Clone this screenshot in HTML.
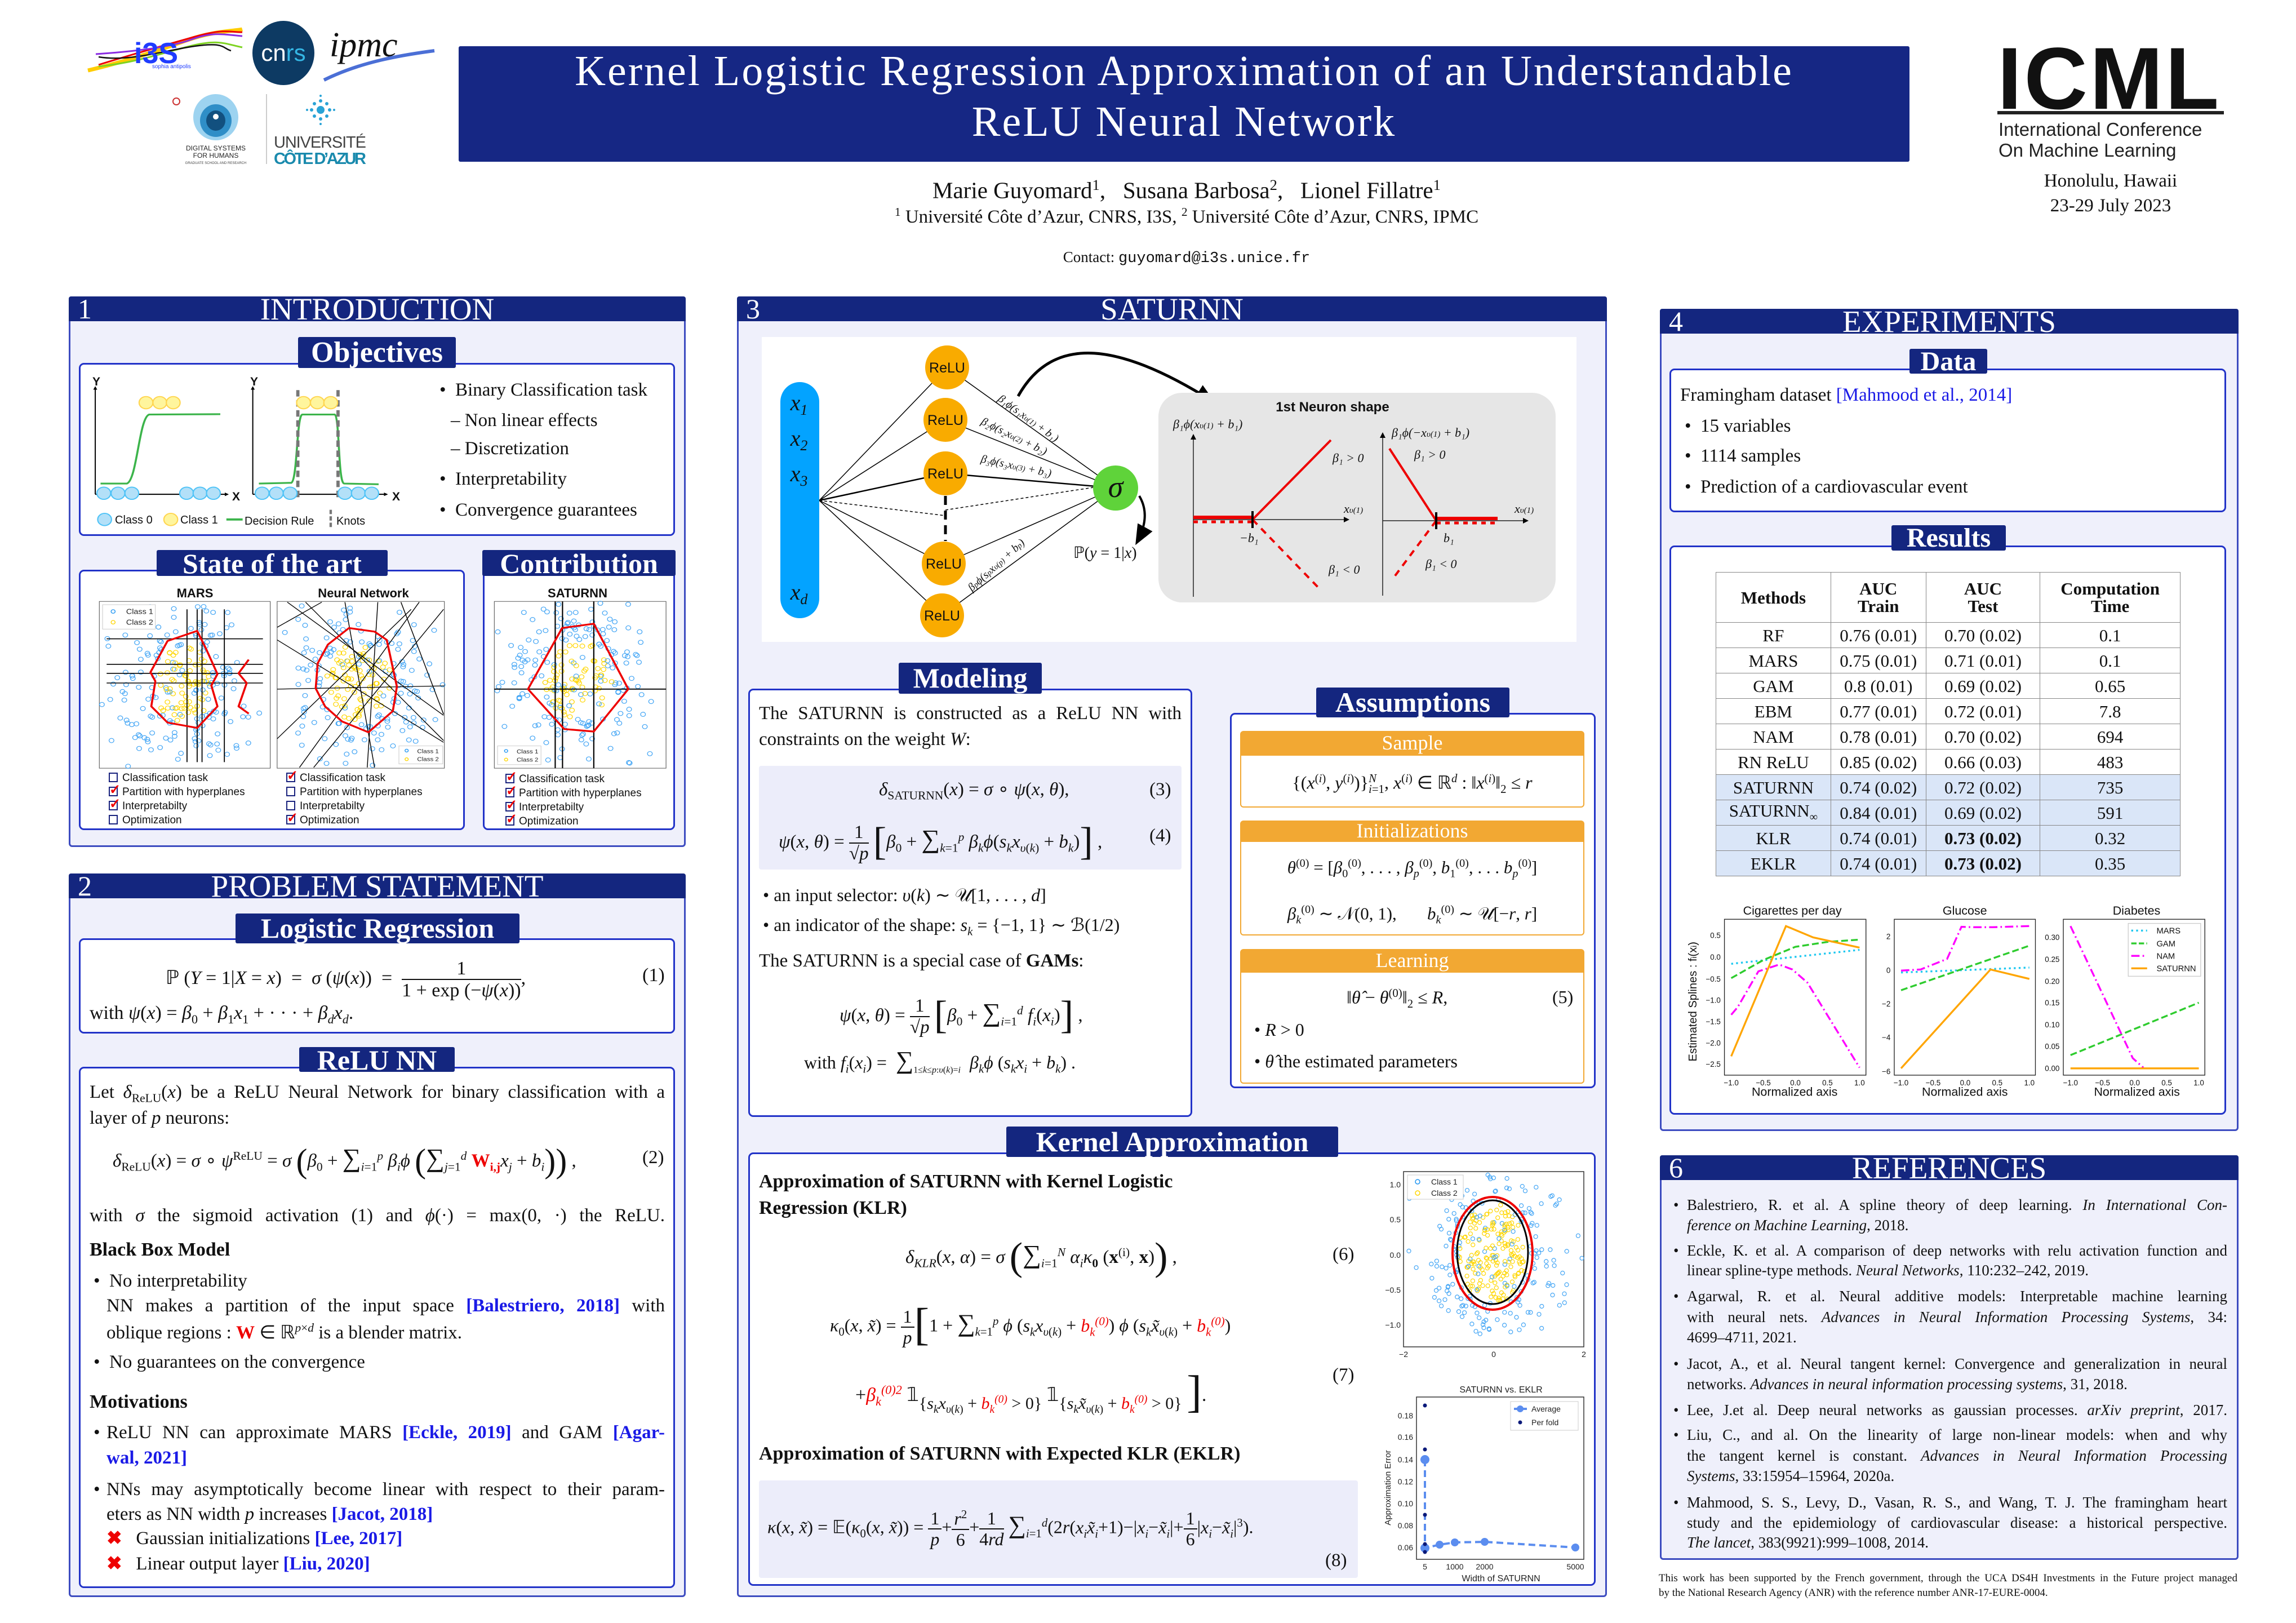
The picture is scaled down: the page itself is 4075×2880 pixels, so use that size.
<!DOCTYPE html>
<html><head><meta charset="utf-8">
<style>
*{margin:0;padding:0;box-sizing:border-box}
body{width:4075px;height:2880px;background:#fff;position:relative;overflow:hidden;font-family:"Liberation Serif",serif;color:#111}
.a{position:absolute;white-space:nowrap;line-height:1}
.sec{position:absolute;background:#eff0fb;border:3px solid #3d4cc0;border-radius:6px}
.hdr{position:absolute;background:#14267f;color:#fff;height:44px;border-radius:4px 4px 0 0}
.hdr .n{position:absolute;left:16px;top:-4px;font-size:50px;line-height:52px}
.hdr .t{position:absolute;left:0;right:0;text-align:center;top:-5px;font-size:55px;line-height:55px}
.box{position:absolute;background:#fff;border:3px solid #2233c8;border-radius:9px}
.lab{position:absolute;background:#14267f;color:#fff;font-weight:bold;text-align:center;border-radius:3px;white-space:nowrap}
.j{position:absolute;text-align:justify;text-align-last:justify;white-space:normal;line-height:1}
.s{font-family:"Liberation Sans",sans-serif}
.cit{color:#1a1ae6;font-weight:bold}
.fr{display:inline-flex;flex-direction:column;vertical-align:middle;text-align:center;line-height:1.1}
.fr>span:first-child{border-bottom:2px solid #111;padding:0 4px}
.cb{display:inline-block;width:16px;height:17px;border:2.5px solid #1a237e;vertical-align:-2px;margin-right:8px;position:relative}
.cb.x::after{content:"✓";position:absolute;left:-1px;top:-9px;color:#e00;font-size:24px;font-weight:bold}
.red{color:#e00}
.orh{position:absolute;background:#f2a833;color:#fff;text-align:center;font-size:36px;line-height:42px;border-radius:6px 6px 0 0}
.orb{position:absolute;background:#fff;border:2px solid #f2a833;border-radius:0 0 6px 6px}
sub,sup{font-size:65%}
i{font-style:italic}
</style></head><body>

<!-- ===== Header logos ===== -->
<svg class="a" style="left:0;top:0" width="820" height="300">
 <path d="M156,125 C220,110 280,90 330,72 S420,55 430,52" stroke="#ffcc00" stroke-width="7" fill="none"/>
 <path d="M175,115 C230,98 300,78 350,64 S410,58 430,57" stroke="#e00" stroke-width="3" fill="none"/>
 <path d="M170,96 C230,92 300,85 340,70 S400,62 430,64" stroke="#8a2be2" stroke-width="3" fill="none"/>
 <path d="M175,118 C250,110 300,90 345,80 S400,78 430,84" stroke="#7ed321" stroke-width="3" fill="none"/>
 <path d="M175,101 C230,110 290,90 345,82 S395,86 410,90" stroke="#111" stroke-width="2.5" fill="none"/>
 <text x="238" y="112" font-family="Liberation Sans" font-weight="bold" font-size="52" fill="#1f3cff">i3S</text>
 <text x="270" y="121" font-family="Liberation Sans" font-size="10" fill="#1f3cff">sophia antipolis</text>
 <ellipse cx="503" cy="94" rx="55" ry="57" fill="#0d3a63"/>
 <text x="503" y="108" text-anchor="middle" font-family="Liberation Sans" font-size="42" fill="#fff">cn<tspan fill="#35b7e5">rs</tspan></text>
 <text x="585" y="100" font-family="Liberation Serif" font-style="italic" font-size="62" fill="#111">ipmc</text>
 <path d="M575,142 C640,110 710,98 771,90" stroke="#4b6fd6" stroke-width="6" fill="none"/>
 <circle cx="313" cy="180" r="6" fill="none" stroke="#c33" stroke-width="2"/>
 <ellipse cx="383" cy="208" rx="40" ry="41" fill="#9dd3f0"/>
 <ellipse cx="383" cy="214" rx="28" ry="29" fill="#2f8ec7"/>
 <ellipse cx="383" cy="214" rx="17" ry="18" fill="#12507f"/>
 <circle cx="383" cy="207" r="5" fill="#fff"/>
 <text x="383" y="267" text-anchor="middle" font-family="Liberation Sans" font-size="12" fill="#222">DIGITAL SYSTEMS</text>
 <text x="383" y="280" text-anchor="middle" font-family="Liberation Sans" font-size="12" fill="#222">FOR HUMANS</text>
 <text x="383" y="291" text-anchor="middle" font-family="Liberation Sans" font-size="6" fill="#444">GRADUATE SCHOOL AND RESEARCH</text>
 <line x1="473" y1="167" x2="473" y2="291" stroke="#bbb" stroke-width="1.5"/>
 <g fill="#29a3d6"><circle cx="569" cy="195" r="7"/><circle cx="569" cy="179" r="3"/><circle cx="569" cy="211" r="3"/><circle cx="553" cy="195" r="3"/><circle cx="585" cy="195" r="3"/><circle cx="558" cy="184" r="3"/><circle cx="580" cy="184" r="3"/><circle cx="558" cy="206" r="3"/><circle cx="580" cy="206" r="3"/><circle cx="569" cy="170" r="2"/><circle cx="569" cy="220" r="2"/><circle cx="545" cy="195" r="2"/><circle cx="593" cy="195" r="2"/></g>
 <text x="486" y="262" font-family="Liberation Sans" font-size="29" fill="#444" textLength="164">UNIVERSITÉ</text>
 <text x="486" y="291" font-family="Liberation Sans" font-weight="bold" font-size="29" fill="#1a8aad" textLength="164">CÔTE D’AZUR</text>
</svg>

<div class="a" style="left:814px;top:82px;width:2575px;height:205px;background:#162784;border-radius:3px"></div>
<div class="a" style="left:814px;top:88px;width:2575px;text-align:center;color:#fff;font-size:76px;letter-spacing:3px">Kernel Logistic Regression Approximation of an Understandable</div>
<div class="a" style="left:814px;top:178px;width:2575px;text-align:center;color:#fff;font-size:76px;letter-spacing:3px">ReLU Neural Network</div>

<div class="a s" style="left:3545px;top:62px;font-size:156px;font-weight:bold;letter-spacing:4px;color:#111">ICML</div>
<div class="a" style="left:3545px;top:197px;width:402px;height:6px;background:#222"></div>
<div class="a s" style="left:3547px;top:213px;font-size:33px;color:#222">International Conference</div>
<div class="a s" style="left:3547px;top:250px;font-size:33px;color:#222">On Machine Learning</div>
<div class="a" style="left:3600px;top:305px;width:292px;text-align:center;font-size:33px">Honolulu, Hawaii</div>
<div class="a" style="left:3600px;top:349px;width:292px;text-align:center;font-size:33px">23-29 July 2023</div>

<div class="a" style="left:1500px;top:315px;width:1212px;text-align:center;font-size:41px">Marie Guyomard<sup>1</sup>,&nbsp;&nbsp;&nbsp;Susana Barbosa<sup>2</sup>,&nbsp;&nbsp;&nbsp;Lionel Fillatre<sup>1</sup></div>
<div class="a" style="left:1500px;top:366px;width:1212px;text-align:center;font-size:33px"><sup>1</sup> Université Côte d’Azur, CNRS, I3S, <sup>2</sup> Université Côte d’Azur, CNRS, IPMC</div>
<div class="a" style="left:1500px;top:443px;width:1212px;text-align:center;font-size:27px">Contact: <span style="font-family:'Liberation Mono',monospace">guyomard@i3s.unice.fr</span></div>

<!-- ===== Section 1 ===== -->
<div class="sec" style="left:122px;top:526px;width:1095px;height:977px"></div>
<div class="hdr" style="left:122px;top:526px;width:1095px"><span class="n">1</span><span class="t">INTRODUCTION</span></div>
<div class="box" style="left:140px;top:644px;width:1058px;height:307px"></div>
<div class="lab" style="left:529px;top:598px;width:280px;height:55px;font-size:52px;line-height:55px">Objectives</div>
<div class="box" style="left:140px;top:1011px;width:685px;height:462px"></div>
<div class="box" style="left:857px;top:1011px;width:341px;height:462px"></div>
<div class="lab" style="left:278px;top:976px;width:410px;height:46px;font-size:50px;line-height:48px">State of the art</div>
<div class="lab" style="left:856px;top:976px;width:343px;height:46px;font-size:50px;line-height:48px">Contribution</div>

<div class="a" style="left:780px;top:676px;font-size:33px">•&nbsp; Binary Classification task</div>
<div class="a" style="left:800px;top:730px;font-size:33px">– Non linear effects</div>
<div class="a" style="left:800px;top:780px;font-size:33px">– Discretization</div>
<div class="a" style="left:780px;top:834px;font-size:33px">•&nbsp; Interpretability</div>
<div class="a" style="left:780px;top:889px;font-size:33px">•&nbsp; Convergence guarantees</div>

<div class="a s" style="left:346px;top:1042px;font-size:22px;font-weight:bold;transform:translateX(-50%)">MARS</div>
<div class="a s" style="left:645px;top:1042px;font-size:22px;font-weight:bold;transform:translateX(-50%)">Neural Network</div>
<div class="a s" style="left:1025px;top:1042px;font-size:22px;font-weight:bold;transform:translateX(-50%)">SATURNN</div>

<div class="a s" style="left:193px;top:1368px;font-size:19px;line-height:25px;white-space:pre"><span class="cb"></span>Classification task
<span class="cb x"></span>Partition with hyperplanes
<span class="cb x"></span>Interpretabilty
<span class="cb"></span>Optimization</div>
<div class="a s" style="left:508px;top:1368px;font-size:19px;line-height:25px;white-space:pre"><span class="cb x"></span>Classification task
<span class="cb"></span>Partition with hyperplanes
<span class="cb"></span>Interpretabilty
<span class="cb x"></span>Optimization</div>
<div class="a s" style="left:897px;top:1370px;font-size:19px;line-height:25px;white-space:pre"><span class="cb x"></span>Classification task
<span class="cb x"></span>Partition with hyperplanes
<span class="cb x"></span>Interpretabilty
<span class="cb x"></span>Optimization</div>

<!-- ===== Section 2 ===== -->
<div class="sec" style="left:122px;top:1550px;width:1095px;height:1284px"></div>
<div class="hdr" style="left:122px;top:1550px;width:1095px"><span class="n">2</span><span class="t">PROBLEM STATEMENT</span></div>
<div class="box" style="left:140px;top:1665px;width:1058px;height:169px"></div>
<div class="lab" style="left:418px;top:1621px;width:504px;height:53px;font-size:50px;line-height:53px">Logistic Regression</div>
<div class="a" style="left:294px;top:1700px;font-size:34px;line-height:60px">ℙ (<i>Y</i> = 1|<i>X</i> = <i>x</i>) &nbsp;= &nbsp;<i>σ</i> (<i>ψ</i>(<i>x</i>)) &nbsp;= &nbsp;<span class="fr"><span>1</span><span>1 + exp (−<i>ψ</i>(<i>x</i>))</span></span>,</div>
<div class="a" style="left:1140px;top:1714px;font-size:34px">(1)</div>
<div class="a" style="left:159px;top:1781px;font-size:34px">with <i>ψ</i>(<i>x</i>) = <i>β</i><sub>0</sub> + <i>β</i><sub>1</sub><i>x</i><sub>1</sub> + · · · + <i>β<sub>d</sub>x<sub>d</sub></i>.</div>

<div class="box" style="left:140px;top:1893px;width:1058px;height:925px"></div>
<div class="lab" style="left:531px;top:1858px;width:276px;height:44px;font-size:50px;line-height:46px">ReLU NN</div>
<div class="j" style="left:159px;top:1922px;width:1021px;font-size:33px">Let <i>δ</i><sub>ReLU</sub>(<i>x</i>) be a ReLU Neural Network for binary classification with a</div>
<div class="a" style="left:159px;top:1968px;font-size:33px">layer of <i>p</i> neurons:</div>
<div class="a" style="left:200px;top:2030px;font-size:33px"><i>δ</i><sub>ReLU</sub>(<i>x</i>) = <i>σ</i> ∘ <i>ψ</i><sup>ReLU</sup> = <i>σ</i> <span style="font-size:60px;vertical-align:-10px">(</span><i>β</i><sub>0</sub> + <span style="font-size:46px">∑</span><sub><i>i</i>=1</sub><sup><i>p</i></sup> <i>β<sub>i</sub>ϕ</i> <span style="font-size:60px;vertical-align:-10px">(</span><span style="font-size:46px">∑</span><sub><i>j</i>=1</sub><sup><i>d</i></sup> <b class="red">W<sub>i,j</sub></b><i>x<sub>j</sub></i> + <i>b<sub>i</sub></i><span style="font-size:60px;vertical-align:-10px">))</span> ,</div>
<div class="a" style="left:1140px;top:2038px;font-size:33px">(2)</div>
<div class="j" style="left:159px;top:2141px;width:1021px;font-size:33px">with <i>σ</i> the sigmoid activation (1) and <i>ϕ</i>(·) = max(0, ·) the ReLU.</div>
<div class="a" style="left:159px;top:2201px;font-size:34px;font-weight:bold">Black Box Model</div>
<div class="a" style="left:166px;top:2257px;font-size:33px">•&nbsp; No interpretability</div>
<div class="j" style="left:189px;top:2301px;width:991px;font-size:33px">NN makes a partition of the input space <span class="cit">[Balestriero, 2018]</span> with</div>
<div class="a" style="left:189px;top:2346px;font-size:33px">oblique regions : <b class="red">W</b> ∈ ℝ<sup><i>p</i>×<i>d</i></sup> is a blender matrix.</div>
<div class="a" style="left:166px;top:2401px;font-size:33px">•&nbsp; No guarantees on the convergence</div>
<div class="a" style="left:159px;top:2471px;font-size:34px;font-weight:bold">Motivations</div>
<div class="a" style="left:166px;top:2526px;font-size:33px">•</div>
<div class="j" style="left:189px;top:2526px;width:991px;font-size:33px">ReLU NN can approximate MARS <span class="cit">[Eckle, 2019]</span> and GAM <span class="cit">[Agar-</span></div>
<div class="a" style="left:189px;top:2571px;font-size:33px"><span class="cit">wal, 2021]</span></div>
<div class="a" style="left:166px;top:2627px;font-size:33px">•</div>
<div class="j" style="left:189px;top:2627px;width:991px;font-size:33px">NNs may asymptotically become linear with respect to their param-</div>
<div class="a" style="left:189px;top:2671px;font-size:33px">eters as NN width <i>p</i> increases <span class="cit">[Jacot, 2018]</span></div>
<div class="a" style="left:189px;top:2714px;font-size:33px"><span class="red" style="font-weight:bold">✖</span>&nbsp;&nbsp; Gaussian initializations <span class="cit">[Lee, 2017]</span></div>
<div class="a" style="left:189px;top:2759px;font-size:33px"><span class="red" style="font-weight:bold">✖</span>&nbsp;&nbsp; Linear output layer <span class="cit">[Liu, 2020]</span></div>

<!-- ===== Section 3 ===== -->
<div class="sec" style="left:1308px;top:526px;width:1544px;height:2308px"></div>
<div class="hdr" style="left:1308px;top:526px;width:1544px"><span class="n">3</span><span class="t">SATURNN</span></div>
<div class="a" style="left:1352px;top:598px;width:1446px;height:541px;background:#fff"></div>

<div class="box" style="left:1328px;top:1222px;width:788px;height:760px"></div>
<div class="lab" style="left:1595px;top:1176px;width:254px;height:55px;font-size:50px;line-height:55px">Modeling</div>
<div class="j" style="left:1347px;top:1250px;width:750px;font-size:33px">The SATURNN is constructed as a ReLU NN with</div>
<div class="a" style="left:1347px;top:1296px;font-size:33px">constraints on the weight <i>W</i>:</div>
<div class="a" style="left:1347px;top:1359px;width:750px;height:184px;background:#ecedfa;border-radius:4px"></div>
<div class="a" style="left:1560px;top:1385px;font-size:33px"><i>δ</i><sub>SATURNN</sub>(<i>x</i>) = <i>σ</i> ∘ <i>ψ</i>(<i>x</i>, <i>θ</i>),</div>
<div class="a" style="left:2040px;top:1385px;font-size:33px">(3)</div>
<div class="a" style="left:1382px;top:1450px;font-size:33px;line-height:70px"><i>ψ</i>(<i>x</i>, <i>θ</i>) = <span class="fr"><span>1</span><span>√<i>p</i></span></span> <span style="font-size:70px;vertical-align:-12px">[</span><i>β</i><sub>0</sub> + <span style="font-size:46px">∑</span><sub><i>k</i>=1</sub><sup><i>p</i></sup> <i>β<sub>k</sub>ϕ</i>(<i>s<sub>k</sub>x</i><sub><i>υ</i>(<i>k</i>)</sub> + <i>b<sub>k</sub></i>)<span style="font-size:70px;vertical-align:-12px">]</span> ,</div>
<div class="a" style="left:2040px;top:1467px;font-size:33px">(4)</div>
<div class="a" style="left:1354px;top:1572px;font-size:32px">• an input selector: <i>υ</i>(<i>k</i>) ∼ 𝒰[1, . . . , <i>d</i>]</div>
<div class="a" style="left:1354px;top:1625px;font-size:32px">• an indicator of the shape: <i>s<sub>k</sub></i> = {−1, 1} ∼ ℬ(1/2)</div>
<div class="a" style="left:1347px;top:1689px;font-size:33px">The SATURNN is a special case of <b>GAMs</b>:</div>
<div class="a" style="left:1490px;top:1758px;font-size:33px;line-height:70px"><i>ψ</i>(<i>x</i>, <i>θ</i>) = <span class="fr"><span>1</span><span>√<i>p</i></span></span> <span style="font-size:70px;vertical-align:-12px">[</span><i>β</i><sub>0</sub> + <span style="font-size:46px">∑</span><sub><i>i</i>=1</sub><sup><i>d</i></sup> <i>f<sub>i</sub></i>(<i>x<sub>i</sub></i>)<span style="font-size:70px;vertical-align:-12px">]</span> ,</div>
<div class="a" style="left:1427px;top:1860px;font-size:32px">with <i>f<sub>i</sub></i>(<i>x<sub>i</sub></i>) = &nbsp;<span style="font-size:44px">∑</span><sub style="font-size:50%">1≤<i>k</i>≤<i>p</i>:<i>υ</i>(<i>k</i>)=<i>i</i></sub>&nbsp; <i>β<sub>k</sub>ϕ</i> (<i>s<sub>k</sub>x<sub>i</sub></i> + <i>b<sub>k</sub></i>) .</div>

<div class="box" style="left:2183px;top:1265px;width:649px;height:666px"></div>
<div class="lab" style="left:2336px;top:1220px;width:343px;height:53px;font-size:50px;line-height:53px">Assumptions</div>
<div class="orh" style="left:2201px;top:1297px;width:611px;height:42px">Sample</div>
<div class="orb" style="left:2201px;top:1339px;width:611px;height:94px"></div>
<div class="a" style="left:2201px;top:1372px;width:611px;text-align:center;font-size:32px">{(<i>x</i><sup>(<i>i</i>)</sup>, <i>y</i><sup>(<i>i</i>)</sup>)}<sup><i>N</i></sup><sub style="margin-left:-14px"><i>i</i>=1</sub>, <i>x</i><sup>(<i>i</i>)</sup> ∈ ℝ<sup><i>d</i></sup> : ‖<i>x</i><sup>(<i>i</i>)</sup>‖<sub>2</sub> ≤ <i>r</i></div>
<div class="orh" style="left:2201px;top:1456px;width:611px;height:36px;line-height:36px">Initializations</div>
<div class="orb" style="left:2201px;top:1492px;width:611px;height:168px"></div>
<div class="a" style="left:2201px;top:1522px;width:611px;text-align:center;font-size:31px"><i>θ</i><sup>(0)</sup> = [<i>β</i><sub>0</sub><sup>(0)</sup>, . . . , <i>β</i><sub><i>p</i></sub><sup>(0)</sup>, <i>b</i><sub>1</sub><sup>(0)</sup>, . . . <i>b</i><sub><i>p</i></sub><sup>(0)</sup>]</div>
<div class="a" style="left:2201px;top:1604px;width:611px;text-align:center;font-size:31px"><i>β</i><sub><i>k</i></sub><sup>(0)</sup> ∼ 𝒩(0, 1), &nbsp;&nbsp;&nbsp;&nbsp;&nbsp; <i>b</i><sub><i>k</i></sub><sup>(0)</sup> ∼ 𝒰[−<i>r</i>, <i>r</i>]</div>
<div class="orh" style="left:2201px;top:1684px;width:611px;height:40px;line-height:40px">Learning</div>
<div class="orb" style="left:2201px;top:1724px;width:611px;height:199px"></div>
<div class="a" style="left:2390px;top:1753px;font-size:32px">‖<i>θ̂</i> − <i>θ</i><sup>(0)</sup>‖<sub>2</sub> ≤ <i>R</i>,</div>
<div class="a" style="left:2755px;top:1753px;font-size:32px">(5)</div>
<div class="a" style="left:2226px;top:1811px;font-size:32px">• <i>R</i> &gt; 0</div>
<div class="a" style="left:2226px;top:1867px;font-size:32px">• <i>θ̂</i> the estimated parameters</div>

<div class="box" style="left:1328px;top:2045px;width:1504px;height:769px"></div>
<div class="lab" style="left:1786px;top:1999px;width:589px;height:54px;font-size:50px;line-height:54px">Kernel Approximation</div>
<div class="a" style="left:1347px;top:2080px;font-size:34px;font-weight:bold">Approximation of SATURNN with Kernel Logistic</div>
<div class="a" style="left:1347px;top:2127px;font-size:34px;font-weight:bold">Regression (KLR)</div>
<div class="a" style="left:1607px;top:2196px;font-size:33px"><i>δ<sub>KLR</sub></i>(<i>x</i>, <i>α</i>) = <i>σ</i> <span style="font-size:70px;vertical-align:-12px">(</span><span style="font-size:46px">∑</span><sub><i>i</i>=1</sub><sup><i>N</i></sup> <i>α<sub>i</sub>κ</i><sub><b>0</b></sub> (<b>x</b><sup>(i)</sup>, <b>x</b>)<span style="font-size:70px;vertical-align:-12px">)</span> ,</div>
<div class="a" style="left:2365px;top:2210px;font-size:33px">(6)</div>
<div class="a" style="left:1473px;top:2310px;font-size:32px;line-height:70px"><i>κ</i><sub>0</sub>(<i>x</i>, <i>x̃</i>) = <span class="fr"><span>1</span><span><i>p</i></span></span><span style="font-size:80px;vertical-align:-14px">[</span>1 + <span style="font-size:44px">∑</span><sub><i>k</i>=1</sub><sup><i>p</i></sup> <i>ϕ</i> (<i>s<sub>k</sub>x</i><sub><i>υ</i>(<i>k</i>)</sub> + <i class="red">b<sub>k</sub><sup>(0)</sup></i>) <i>ϕ</i> (<i>s<sub>k</sub>x̃</i><sub><i>υ</i>(<i>k</i>)</sub> + <i class="red">b<sub>k</sub><sup>(0)</sup></i>)</div>
<div class="a" style="left:1518px;top:2430px;font-size:34px">+<i class="red">β<sub>k</sub><sup>(0)2</sup></i> 𝟙<span style="font-size:30px;vertical-align:-14px">{<i>s<sub>k</sub>x</i><sub><i>υ</i>(<i>k</i>)</sub> + <i class="red">b<sub>k</sub><sup>(0)</sup></i> &gt; 0}</span> 𝟙<span style="font-size:30px;vertical-align:-14px">{<i>s<sub>k</sub>x̃</i><sub><i>υ</i>(<i>k</i>)</sub> + <i class="red">b<sub>k</sub><sup>(0)</sup></i> &gt; 0}</span> <span style="font-size:80px;vertical-align:-10px">]</span>.</div>
<div class="a" style="left:2365px;top:2424px;font-size:33px">(7)</div>
<div class="a" style="left:1347px;top:2563px;font-size:34px;font-weight:bold">Approximation of SATURNN with Expected KLR (EKLR)</div>
<div class="a" style="left:1347px;top:2627px;width:1063px;height:173px;background:#ecedfa;border-radius:4px"></div>
<div class="a" style="left:1362px;top:2668px;font-size:32px;line-height:70px"><i>κ</i>(<i>x</i>, <i>x̃</i>) = 𝔼(<i>κ</i><sub>0</sub>(<i>x</i>, <i>x̃</i>)) = <span class="fr"><span>1</span><span><i>p</i></span></span>+<span class="fr"><span><i>r</i><sup>2</sup></span><span>6</span></span>+<span class="fr"><span>1</span><span>4<i>rd</i></span></span> <span style="font-size:44px">∑</span><sub><i>i</i>=1</sub><sup><i>d</i></sup>(2<i>r</i>(<i>x<sub>i</sub>x̃<sub>i</sub></i>+1)−|<i>x<sub>i</sub></i>−<i>x̃<sub>i</sub></i>|+<span class="fr"><span>1</span><span>6</span></span>|<i>x<sub>i</sub></i>−<i>x̃<sub>i</sub></i>|<sup>3</sup>).</div>
<div class="a" style="left:2352px;top:2753px;font-size:33px">(8)</div>

<!-- ===== Section 4 ===== -->
<div class="sec" style="left:2946px;top:548px;width:1027px;height:1459px"></div>
<div class="hdr" style="left:2946px;top:548px;width:1027px"><span class="n">4</span><span class="t">EXPERIMENTS</span></div>
<div class="box" style="left:2963px;top:654px;width:988px;height:255px"></div>
<div class="lab" style="left:3389px;top:619px;width:138px;height:44px;font-size:48px;line-height:46px">Data</div>
<div class="a" style="left:2982px;top:685px;font-size:33px">Framingham dataset <span style="color:#1a1ae6">[Mahmood et al., 2014]</span></div>
<div class="a" style="left:2990px;top:740px;font-size:33px">•&nbsp; 15 variables</div>
<div class="a" style="left:2990px;top:793px;font-size:33px">•&nbsp; 1114 samples</div>
<div class="a" style="left:2990px;top:848px;font-size:33px">•&nbsp; Prediction of a cardiovascular event</div>
<div class="box" style="left:2963px;top:968px;width:988px;height:1010px"></div>
<div class="lab" style="left:3357px;top:932px;width:203px;height:45px;font-size:48px;line-height:45px">Results</div>

<table class="a" style="left:3045px;top:1015px;width:825px;border-collapse:collapse;font-size:31px;text-align:center;white-space:nowrap;line-height:1">
<colgroup><col style="width:204px"><col style="width:169px"><col style="width:203px"><col style="width:249px"></colgroup>
<tr style="height:89px;font-weight:bold"><td style="border:1.5px solid #888">Methods</td><td style="border:1.5px solid #888">AUC<br>Train</td><td style="border:1.5px solid #888">AUC<br>Test</td><td style="border:1.5px solid #888">Computation<br>Time</td></tr>
<tr style="height:45px"><td style="border:1.5px solid #888">RF</td><td style="border:1.5px solid #888">0.76 (0.01)</td><td style="border:1.5px solid #888">0.70 (0.02)</td><td style="border:1.5px solid #888">0.1</td></tr>
<tr style="height:45px"><td style="border:1.5px solid #888">MARS</td><td style="border:1.5px solid #888">0.75 (0.01)</td><td style="border:1.5px solid #888">0.71 (0.01)</td><td style="border:1.5px solid #888">0.1</td></tr>
<tr style="height:45px"><td style="border:1.5px solid #888">GAM</td><td style="border:1.5px solid #888">0.8 (0.01)</td><td style="border:1.5px solid #888">0.69 (0.02)</td><td style="border:1.5px solid #888">0.65</td></tr>
<tr style="height:45px"><td style="border:1.5px solid #888">EBM</td><td style="border:1.5px solid #888">0.77 (0.01)</td><td style="border:1.5px solid #888">0.72 (0.01)</td><td style="border:1.5px solid #888">7.8</td></tr>
<tr style="height:45px"><td style="border:1.5px solid #888">NAM</td><td style="border:1.5px solid #888">0.78 (0.01)</td><td style="border:1.5px solid #888">0.70 (0.02)</td><td style="border:1.5px solid #888">694</td></tr>
<tr style="height:45px"><td style="border:1.5px solid #888">RN ReLU</td><td style="border:1.5px solid #888">0.85 (0.02)</td><td style="border:1.5px solid #888">0.66 (0.03)</td><td style="border:1.5px solid #888">483</td></tr>
<tr style="height:45px;background:#dae6f8"><td style="border:1.5px solid #888">SATURNN</td><td style="border:1.5px solid #888">0.74 (0.02)</td><td style="border:1.5px solid #888">0.72 (0.02)</td><td style="border:1.5px solid #888">735</td></tr>
<tr style="height:45px;background:#dae6f8"><td style="border:1.5px solid #888">SATURNN<sub>∞</sub></td><td style="border:1.5px solid #888">0.84 (0.01)</td><td style="border:1.5px solid #888">0.69 (0.02)</td><td style="border:1.5px solid #888">591</td></tr>
<tr style="height:45px;background:#dae6f8"><td style="border:1.5px solid #888">KLR</td><td style="border:1.5px solid #888">0.74 (0.01)</td><td style="border:1.5px solid #888;font-weight:bold">0.73 (0.02)</td><td style="border:1.5px solid #888">0.32</td></tr>
<tr style="height:45px;background:#dae6f8"><td style="border:1.5px solid #888">EKLR</td><td style="border:1.5px solid #888">0.74 (0.01)</td><td style="border:1.5px solid #888;font-weight:bold">0.73 (0.02)</td><td style="border:1.5px solid #888">0.35</td></tr>
</table>

<!-- ===== Section 6 ===== -->
<div class="sec" style="left:2946px;top:2050px;width:1027px;height:718px"></div>
<div class="hdr" style="left:2946px;top:2050px;width:1027px"><span class="n">6</span><span class="t">REFERENCES</span></div>
<div style="position:absolute;left:2970px;top:2125px;font-size:27px">
<div class="a" style="left:0;top:0">•</div><div class="a" style="left:0;top:81px">•</div><div class="a" style="left:0;top:162px">•</div><div class="a" style="left:0;top:282px">•</div><div class="a" style="left:0;top:364px">•</div><div class="a" style="left:0;top:408px">•</div><div class="a" style="left:0;top:528px">•</div>
</div>
<div style="font-size:27px">
<div class="j" style="left:2994px;top:2125px;width:959px">Balestriero, R. et al. A spline theory of deep learning. <i>In International Con-</i></div>
<div class="a" style="left:2994px;top:2161px;font-size:27px"><i>ference on Machine Learning</i>, 2018.</div>
<div class="j" style="left:2994px;top:2206px;width:959px">Eckle, K. et al. A comparison of deep networks with relu activation function and</div>
<div class="a" style="left:2994px;top:2241px;font-size:27px">linear spline-type methods. <i>Neural Networks</i>, 110:232–242, 2019.</div>
<div class="j" style="left:2994px;top:2287px;width:959px">Agarwal, R. et al. Neural additive models: Interpretable machine learning</div>
<div class="j" style="left:2994px;top:2324px;width:959px">with neural nets. <i>Advances in Neural Information Processing Systems</i>, 34:</div>
<div class="a" style="left:2994px;top:2360px;font-size:27px">4699–4711, 2021.</div>
<div class="j" style="left:2994px;top:2407px;width:959px">Jacot, A., et al. Neural tangent kernel: Convergence and generalization in neural</div>
<div class="a" style="left:2994px;top:2443px;font-size:27px">networks. <i>Advances in neural information processing systems</i>, 31, 2018.</div>
<div class="j" style="left:2994px;top:2489px;width:959px">Lee, J.et al. Deep neural networks as gaussian processes. <i>arXiv preprint</i>, 2017.</div>
<div class="j" style="left:2994px;top:2533px;width:959px">Liu, C., and al. On the linearity of large non-linear models: when and why</div>
<div class="j" style="left:2994px;top:2570px;width:959px">the tangent kernel is constant. <i>Advances in Neural Information Processing</i></div>
<div class="a" style="left:2994px;top:2606px;font-size:27px"><i>Systems</i>, 33:15954–15964, 2020a.</div>
<div class="j" style="left:2994px;top:2653px;width:959px">Mahmood, S. S., Levy, D., Vasan, R. S., and Wang, T. J. The framingham heart</div>
<div class="j" style="left:2994px;top:2689px;width:959px">study and the epidemiology of cardiovascular disease: a historical perspective.</div>
<div class="a" style="left:2994px;top:2724px;font-size:27px"><i>The lancet</i>, 383(9921):999–1008, 2014.</div>
</div>
<div class="j" style="left:2944px;top:2791px;width:1027px;font-size:19px">This work has been supported by the French government, through the UCA DS4H Investments in the Future project managed</div>
<div class="a" style="left:2944px;top:2817px;font-size:19px">by the National Research Agency (ANR) with the reference number ANR-17-EURE-0004.</div>

<!-- ===== Graphics overlay ===== -->
<svg class="a" style="left:0;top:0" width="4075" height="2880" font-family="Liberation Sans, sans-serif">
<defs>
 <marker id="ah" markerWidth="10" markerHeight="10" refX="7" refY="5" orient="auto" markerUnits="userSpaceOnUse" viewBox="0 0 10 10"><path d="M0,0 L10,5 L0,10 z" fill="#000"/></marker>
 <marker id="ahb" markerWidth="36" markerHeight="30" refX="30" refY="15" orient="auto" markerUnits="userSpaceOnUse"><path d="M0,0 L36,15 L0,30 z" fill="#000"/></marker>
</defs>

<g transform="translate(110,520) scale(0.7205,0.6378)">
 <g stroke="#000" stroke-width="2" fill="none" marker-end="url(#ah)">
  <line x1="82" y1="560" x2="82" y2="262" vector-effect="non-scaling-stroke"/>
  <line x1="82" y1="560" x2="408" y2="560" vector-effect="non-scaling-stroke"/>
  <line x1="470" y1="560" x2="470" y2="262" vector-effect="non-scaling-stroke"/>
  <line x1="470" y1="560" x2="800" y2="560" vector-effect="non-scaling-stroke"/>
 </g>
 <path d="M95,530 L160,530 C185,520 190,345 215,338 L390,337" stroke="#3cb44b" stroke-width="5" fill="none"/>
 <path d="M485,530 L565,528 C580,520 578,340 592,338 L672,338 C684,345 680,528 695,530 L780,532" stroke="#3cb44b" stroke-width="5" fill="none"/>
 <g stroke="#777" stroke-width="8" stroke-dasharray="18,10"><line x1="581" y1="270" x2="581" y2="578"/><line x1="680" y1="270" x2="680" y2="578"/></g>
 <g fill="#fff59d" stroke="#ffd54f" stroke-width="3">
  <circle cx="207" cy="305" r="17"/><circle cx="241" cy="305" r="17"/><circle cx="274" cy="305" r="17"/>
  <circle cx="595" cy="305" r="17"/><circle cx="629" cy="305" r="17"/><circle cx="662" cy="305" r="17"/>
  <circle cx="268" cy="630" r="17"/>
 </g>
 <g fill="#b3e0f8" stroke="#4fc3f7" stroke-width="3">
  <circle cx="103" cy="557" r="17"/><circle cx="138" cy="557" r="17"/><circle cx="172" cy="557" r="17"/>
  <circle cx="307" cy="557" r="17"/><circle cx="340" cy="557" r="17"/><circle cx="373" cy="557" r="17"/>
  <circle cx="493" cy="557" r="17"/><circle cx="528" cy="557" r="17"/><circle cx="562" cy="557" r="17"/>
  <circle cx="697" cy="557" r="17"/><circle cx="730" cy="557" r="17"/><circle cx="763" cy="557" r="17"/>
  <circle cx="105" cy="630" r="17"/>
 </g>
 <line x1="405" y1="630" x2="445" y2="630" stroke="#3cb44b" stroke-width="6"/>
 <line x1="662" y1="603" x2="662" y2="655" stroke="#777" stroke-width="6" stroke-dasharray="12,6"/>
</g>
<g font-size="21" fill="#111">
 <text x="164" y="684" font-weight="bold">Y</text><text x="444" y="684" font-weight="bold">Y</text>
 <text x="412" y="888" font-weight="bold">X</text><text x="696" y="888" font-weight="bold">X</text>
 <text x="204" y="929" font-size="20">Class 0</text><text x="320" y="929" font-size="20">Class 1</text>
 <text x="434" y="931" font-size="20">Decision Rule</text><text x="597" y="931" font-size="20">Knots</text>
</g>

<g transform="translate(110,520) scale(0.7205,0.6378)">
 <g fill="#fff" stroke="#555" stroke-width="1.5">
  <rect x="92" y="858" width="421" height="464"/><rect x="530" y="858" width="412" height="464"/><rect x="1065" y="858" width="423" height="464"/>
 </g>
 <g id="sc1"></g><g id="sc2"></g><g id="sc3"></g>
 <g stroke="#000" stroke-width="2.5">
  <line x1="110" y1="962" x2="495" y2="962"/><line x1="110" y1="1033" x2="495" y2="1033"/><line x1="110" y1="1058" x2="495" y2="1058"/><line x1="110" y1="1085" x2="495" y2="1085"/>
  <line x1="308" y1="880" x2="308" y2="1305"/><line x1="333" y1="880" x2="333" y2="1305"/><line x1="345" y1="880" x2="345" y2="1305"/><line x1="400" y1="880" x2="400" y2="1305"/>
 </g>
 <g stroke="#000" stroke-width="2">
  <line x1="555" y1="860" x2="940" y2="1175"/><line x1="530" y1="965" x2="940" y2="1250"/><line x1="697" y1="860" x2="770" y2="1320"/>
  <line x1="778" y1="860" x2="752" y2="1320"/><line x1="835" y1="860" x2="940" y2="1172"/><line x1="530" y1="1102" x2="942" y2="1093"/>
  <line x1="880" y1="860" x2="585" y2="1320"/><line x1="940" y1="880" x2="620" y2="1320"/><line x1="530" y1="1240" x2="860" y2="880"/>
  <line x1="600" y1="860" x2="940" y2="1245"/><line x1="530" y1="930" x2="640" y2="860"/>
 </g>
 <g stroke="#000" stroke-width="3">
  <line x1="1215" y1="858" x2="1215" y2="1322"/><line x1="1233" y1="858" x2="1233" y2="1322"/><line x1="1310" y1="858" x2="1310" y2="1322"/><line x1="1065" y1="1102" x2="1488" y2="1102"/>
 </g>
 <g stroke="#e00" stroke-width="5" fill="none" stroke-linejoin="round">
  <polygon points="260,968 333,940 355,990 383,1060 368,1092 383,1150 333,1210 260,1195 220,1150 230,1080 218,1055"/>
  <polyline points="460,1020 435,1058 455,1085 435,1150 460,1170"/>
  <polygon points="707,932 770,942 800,965 825,1095 815,1163 755,1222 690,1192 648,1150 625,1100 630,1030 655,978"/>
  <polygon points="1232,932 1310,920 1395,1102 1310,1220 1237,1213 1148,1102"/>
 </g>
 <g fill="#fff" stroke="#ccc" stroke-width="1.5">
  <rect x="100" y="867" width="130" height="68"/><rect x="830" y="1260" width="108" height="50"/><rect x="1073" y="1260" width="107" height="52"/>
 </g>
 <g font-size="20" fill="#222">
  <circle cx="126" cy="886" r="5" fill="none" stroke="#2196f3" stroke-width="2"/><circle cx="126" cy="916" r="5" fill="none" stroke="#ffd600" stroke-width="2"/>
  <text x="158" y="893">Class 1</text><text x="158" y="923">Class 2</text>
  <text x="875" y="1280" font-size="16">Class 1</text><text x="875" y="1302" font-size="16">Class 2</text>
  <circle cx="849" cy="1273" r="4" fill="none" stroke="#2196f3" stroke-width="2"/><circle cx="849" cy="1297" r="4" fill="none" stroke="#ffd600" stroke-width="2"/>
  <text x="1120" y="1281" font-size="16">Class 1</text><text x="1120" y="1304" font-size="16">Class 2</text>
  <circle cx="1094" cy="1274" r="4" fill="none" stroke="#2196f3" stroke-width="2"/><circle cx="1094" cy="1298" r="4" fill="none" stroke="#ffd600" stroke-width="2"/>
 </g>
</g>

<g stroke="#000" stroke-width="1.5" fill="none">
 <line x1="1454" y1="888" x2="1681" y2="652"/><line x1="1454" y1="888" x2="1678" y2="745"/><line x1="1454" y1="888" x2="1678" y2="840" stroke-width="2.5"/>
 <line x1="1454" y1="888" x2="1675" y2="1000"/><line x1="1454" y1="888" x2="1672" y2="1092"/>
 <line x1="1454" y1="888" x2="1678" y2="915" stroke-dasharray="5,4"/><line x1="1678" y1="905" x2="1940" y2="865" stroke-dasharray="5,4"/>
 <line x1="1681" y1="652" x2="1980" y2="866"/><line x1="1678" y1="745" x2="1980" y2="866"/><line x1="1678" y1="840" x2="1980" y2="866" stroke-width="2.5"/>
 <line x1="1675" y1="1000" x2="1980" y2="866"/><line x1="1672" y1="1092" x2="1980" y2="866"/>
 <line x1="1678" y1="880" x2="1678" y2="960" stroke-width="5" stroke-dasharray="16,10"/>
</g>
<rect x="1385" y="678" width="69" height="419" rx="35" fill="#03a3ff"/>
<g font-family="Liberation Serif" font-style="italic" font-size="40" fill="#111" text-anchor="middle">
 <text x="1418" y="728">x<tspan font-size="26" dy="8">1</tspan></text>
 <text x="1418" y="791">x<tspan font-size="26" dy="8">2</tspan></text>
 <text x="1418" y="854">x<tspan font-size="26" dy="8">3</tspan></text>
 <text x="1418" y="1064">x<tspan font-size="26" dy="8">d</tspan></text>
</g>
<g fill="#f9ab00">
 <circle cx="1681" cy="652" r="39"/><circle cx="1678" cy="745" r="39"/><circle cx="1678" cy="840" r="39"/><circle cx="1675" cy="1000" r="39"/><circle cx="1672" cy="1092" r="39"/>
</g>
<g font-size="25" fill="#111" text-anchor="middle">
 <text x="1681" y="661">ReLU</text><text x="1678" y="754">ReLU</text><text x="1678" y="849">ReLU</text><text x="1675" y="1009">ReLU</text><text x="1672" y="1101">ReLU</text>
</g>
<circle cx="1980" cy="866" r="40" fill="#5fd33a"/>
<text x="1980" y="882" text-anchor="middle" font-family="Liberation Serif" font-style="italic" font-size="54" fill="#111">σ</text>
<g font-family="Liberation Serif" font-style="italic" font-size="20" fill="#111">
 <text transform="translate(1770,710) rotate(36)">β₁ϕ(s₁x<tspan font-size="14">υ(1)</tspan> + b₁)</text>
 <text transform="translate(1740,752) rotate(26)">β₂ϕ(s₂x<tspan font-size="14">υ(2)</tspan> + b₂)</text>
 <text transform="translate(1740,820) rotate(12)">β₃ϕ(s₃x<tspan font-size="14">υ(3)</tspan> + b₃)</text>
 <text transform="translate(1725,1050) rotate(-42)">β<tspan font-size="14">p</tspan>ϕ(s<tspan font-size="14">p</tspan>x<tspan font-size="14">υ(p)</tspan> + b<tspan font-size="14">p</tspan>)</text>
 <text x="1905" y="990" font-size="28" font-style="normal">ℙ(<tspan font-style="italic">y</tspan> = 1|<tspan font-style="italic">x</tspan>)</text>
</g>
<path d="M1807,703 C1870,590 1990,610 2152,712" stroke="#000" stroke-width="5" fill="none" marker-end="url(#ahb)"/>
<path d="M2022,880 C2040,910 2030,940 2018,962" stroke="#000" stroke-width="4" fill="none" marker-end="url(#ahb)"/>
<rect x="2056" y="697" width="705" height="372" rx="42" fill="#e6e6e6"/>
<text x="2365" y="730" text-anchor="middle" font-size="24" font-weight="bold" fill="#111">1st Neuron shape</text>
<g stroke="#222" stroke-width="1.5" marker-end="url(#ah)">
 <line x1="2118" y1="1059" x2="2118" y2="773"/><line x1="2118" y1="922" x2="2392" y2="922"/>
 <line x1="2454" y1="1057" x2="2454" y2="770"/><line x1="2454" y1="924" x2="2710" y2="924"/>
</g>
<g stroke="#e00" fill="none">
 <line x1="2223" y1="922" x2="2362" y2="781" stroke-width="4"/>
 <line x1="2223" y1="922" x2="2345" y2="1048" stroke-width="4" stroke-dasharray="12,10"/>
 <line x1="2118" y1="918" x2="2223" y2="918" stroke-width="6"/>
 <line x1="2118" y1="926" x2="2223" y2="926" stroke-width="5" stroke-dasharray="8,8"/>
 <line x1="2466" y1="796" x2="2549" y2="924" stroke-width="4"/>
 <line x1="2549" y1="924" x2="2472" y2="1027" stroke-width="4" stroke-dasharray="12,10"/>
 <line x1="2549" y1="920" x2="2658" y2="920" stroke-width="6"/>
 <line x1="2549" y1="928" x2="2658" y2="928" stroke-width="5" stroke-dasharray="8,8"/>
</g>
<g stroke="#000" stroke-width="4"><line x1="2223" y1="907" x2="2223" y2="937"/><line x1="2549" y1="909" x2="2549" y2="939"/></g>
<g font-family="Liberation Serif" font-style="italic" font-size="22" fill="#111">
 <text x="2082" y="760">β₁ϕ(x<tspan font-size="15">υ(1)</tspan> + b₁)</text>
 <text x="2470" y="775">β₁ϕ(−x<tspan font-size="15">υ(1)</tspan> + b₁)</text>
 <text x="2365" y="820">β₁ &gt; 0</text><text x="2510" y="814">β₁ &gt; 0</text>
 <text x="2385" y="910">x<tspan font-size="15">υ(1)</tspan></text><text x="2688" y="910">x<tspan font-size="15">υ(1)</tspan></text>
 <text x="2200" y="962">−b₁</text><text x="2562" y="962">b₁</text>
 <text x="2358" y="1018">β₁ &lt; 0</text><text x="2530" y="1008">β₁ &lt; 0</text>
</g>

<rect x="2491" y="2079" width="320" height="311" fill="#fff" stroke="#333" stroke-width="1.5"/>
<g id="sc4"></g>
<ellipse cx="2649" cy="2224" rx="71" ry="100" fill="none" stroke="#e00" stroke-width="4"/>
<ellipse cx="2649" cy="2222" rx="63" ry="92" fill="none" stroke="#000" stroke-width="3"/>
<rect x="2498" y="2085" width="99" height="43" fill="#fff" stroke="#ccc"/>
<g font-size="14" fill="#222">
 <circle cx="2516" cy="2097" r="4" fill="none" stroke="#2196f3" stroke-width="1.5"/><text x="2540" y="2102">Class 1</text>
 <circle cx="2516" cy="2117" r="4" fill="none" stroke="#ffd600" stroke-width="1.5"/><text x="2540" y="2122">Class 2</text>
 <g text-anchor="end"><text x="2486" y="2107">1.0</text><text x="2486" y="2169">0.5</text><text x="2486" y="2232">0.0</text><text x="2486" y="2294">−0.5</text><text x="2486" y="2356">−1.0</text></g>
 <g text-anchor="middle"><text x="2491" y="2408">−2</text><text x="2651" y="2408">0</text><text x="2811" y="2408">2</text></g>
</g>

<rect x="2514" y="2479" width="297" height="288" fill="#fff" stroke="#333" stroke-width="1.5"/>
<text x="2664" y="2471" text-anchor="middle" font-size="16" fill="#222">SATURNN vs. EKLR</text>
<g font-size="14" fill="#222" text-anchor="end">
 <text x="2508" y="2517">0.18</text><text x="2508" y="2555">0.16</text><text x="2508" y="2595">0.14</text><text x="2508" y="2634">0.12</text><text x="2508" y="2673">0.10</text><text x="2508" y="2712">0.08</text><text x="2508" y="2751">0.06</text>
</g>
<g font-size="14" fill="#222" text-anchor="middle"><text x="2529" y="2785">5</text><text x="2582" y="2785">1000</text><text x="2635" y="2785">2000</text><text x="2796" y="2785">5000</text>
<text x="2664" y="2806" font-size="16">Width of SATURNN</text>
<text transform="translate(2468,2640) rotate(-90)" font-size="15">Approximation Error</text></g>
<polyline points="2529,2590 2529,2747 2555,2741 2582,2737 2635,2736 2796,2746" fill="none" stroke="#5b8def" stroke-width="4" stroke-dasharray="12,7"/>
<g fill="#5b8def"><circle cx="2529" cy="2590" r="8"/><circle cx="2529" cy="2747" r="8"/><circle cx="2555" cy="2741" r="7"/><circle cx="2582" cy="2737" r="7"/><circle cx="2635" cy="2736" r="7"/><circle cx="2796" cy="2746" r="7"/></g>
<g fill="#0b1a7a"><circle cx="2529" cy="2494" r="3.5"/><circle cx="2529" cy="2572" r="3.5"/><circle cx="2529" cy="2688" r="3.5"/><circle cx="2529" cy="2754" r="3.5"/><circle cx="2529" cy="2740" r="3.5"/></g>
<rect x="2681" y="2487" width="120" height="51" fill="#fff" stroke="#ccc"/>
<line x1="2687" y1="2500" x2="2710" y2="2500" stroke="#5b8def" stroke-width="4"/><circle cx="2698" cy="2500" r="6" fill="#5b8def"/>
<circle cx="2698" cy="2524" r="3.5" fill="#0b1a7a"/>
<g font-size="14" fill="#222"><text x="2718" y="2505">Average</text><text x="2718" y="2529">Per fold</text></g>

<g transform="translate(2940,940) scale(0.6698)">
 <g fill="#fff" stroke="#222" stroke-width="2"><rect x="180" y="1032" width="375" height="413"/><rect x="630" y="1032" width="374" height="413"/><rect x="1078" y="1032" width="375" height="413"/></g>
 <g font-size="32" fill="#111" text-anchor="middle"><text x="360" y="1020">Cigarettes per day</text><text x="817" y="1020">Glucose</text><text x="1272" y="1020">Diabetes</text>
 <text x="366" y="1500">Normalized axis</text><text x="817" y="1500">Normalized axis</text><text x="1273" y="1500">Normalized axis</text>
 <text transform="translate(106,1250) rotate(-90)" font-size="30">Estimated Splines : f<tspan font-size="20">i</tspan>(x<tspan font-size="20">i</tspan>)</text></g>
 <g font-size="20" fill="#111" text-anchor="middle">
  <text x="198" y="1472">−1.0</text><text x="283" y="1472">−0.5</text><text x="368" y="1472">0.0</text><text x="453" y="1472">0.5</text><text x="538" y="1472">1.0</text>
  <text x="648" y="1472">−1.0</text><text x="733" y="1472">−0.5</text><text x="818" y="1472">0.0</text><text x="903" y="1472">0.5</text><text x="988" y="1472">1.0</text>
  <text x="1097" y="1472">−1.0</text><text x="1182" y="1472">−0.5</text><text x="1267" y="1472">0.0</text><text x="1352" y="1472">0.5</text><text x="1437" y="1472">1.0</text>
 </g>
 <g font-size="20" fill="#111" text-anchor="end">
  <text x="170" y="1082">0.5</text><text x="170" y="1139">0.0</text><text x="170" y="1197">−0.5</text><text x="170" y="1253">−1.0</text><text x="170" y="1310">−1.5</text><text x="170" y="1367">−2.0</text><text x="170" y="1423">−2.5</text>
  <text x="620" y="1085">2</text><text x="620" y="1174">0</text><text x="620" y="1263">−2</text><text x="620" y="1352">−4</text><text x="620" y="1442">−6</text>
  <text x="1068" y="1087">0.30</text><text x="1068" y="1145">0.25</text><text x="1068" y="1203">0.20</text><text x="1068" y="1260">0.15</text><text x="1068" y="1318">0.10</text><text x="1068" y="1376">0.05</text><text x="1068" y="1434">0.00</text>
 </g>
 <g fill="none" stroke-width="5">
  <line x1="198" y1="1150" x2="538" y2="1113" stroke="#1ec8f0" stroke-dasharray="5,8"/>
  <polyline points="198,1188 283,1140 368,1105 453,1092 538,1086" stroke="#2ecc2e" stroke-dasharray="18,8"/>
  <polyline points="198,1285 215,1265 270,1170 325,1152 360,1165 400,1200 538,1425" stroke="#f0f" stroke-dasharray="22,8,4,8"/>
  <polyline points="198,1395 343,1050 415,1080 538,1107" stroke="#ffa500"/>
  <line x1="648" y1="1173" x2="988" y2="1160" stroke="#1ec8f0" stroke-dasharray="5,8"/>
  <line x1="648" y1="1220" x2="988" y2="1102" stroke="#2ecc2e" stroke-dasharray="18,8"/>
  <polyline points="648,1168 700,1165 770,1137 808,1052 840,1053 890,1053 988,1050" stroke="#f0f" stroke-dasharray="22,8,4,8"/>
  <polyline points="648,1427 885,1165 988,1190" stroke="#ffa500"/>
  <line x1="1097" y1="1392" x2="1437" y2="1253" stroke="#2ecc2e" stroke-dasharray="18,8"/>
  <polyline points="1097,1050 1262,1400 1290,1425" stroke="#f0f" stroke-dasharray="22,8,4,8"/>
  <line x1="1097" y1="1427" x2="1437" y2="1427" stroke="#ffa500"/>
 </g>
 <rect x="1250" y="1043" width="192" height="140" fill="#fff" stroke="#ccc" stroke-width="2"/>
 <g stroke-width="5">
  <line x1="1258" y1="1062" x2="1300" y2="1062" stroke="#1ec8f0" stroke-dasharray="5,8"/>
  <line x1="1258" y1="1096" x2="1300" y2="1096" stroke="#2ecc2e" stroke-dasharray="14,6"/>
  <line x1="1258" y1="1129" x2="1300" y2="1129" stroke="#f0f" stroke-dasharray="22,8,4,8"/>
  <line x1="1258" y1="1162" x2="1300" y2="1162" stroke="#ffa500"/>
 </g>
 <g font-size="22" fill="#111"><text x="1325" y="1070">MARS</text><text x="1325" y="1104">GAM</text><text x="1325" y="1137">NAM</text><text x="1325" y="1170">SATURNN</text></g>
</g>
</svg>

<script>
(function(){
 var s=12345;function r(){s=(s*16807)%2147483647;return s/2147483647;}
 function g(){var u=r()||1e-9,v=r();return Math.sqrt(-2*Math.log(u))*Math.cos(6.2832*v);}
 function gen(id,cx,cy,sx,sy,n,irx,iry,x0,y0,x1,y1,rad,sw){
  var el=document.getElementById(id);if(!el)return;var h="";
  for(var i=0;i<n;i++){var dx=g()*sx,dy=g()*sy,x=cx+dx,y=cy+dy;
   if(x<x0||x>x1||y<y0||y>y1)continue;
   var d=(dx/irx)*(dx/irx)+(dy/iry)*(dy/iry);
   var c=(d<1&&r()<0.85)?"#ffd600":"#42a5f5";
   h+='<circle cx="'+x.toFixed(1)+'" cy="'+y.toFixed(1)+'" r="'+rad+'" fill="none" stroke="'+c+'" stroke-width="'+sw+'"/>';}
  el.innerHTML=h;}
 gen("sc1",300,1090,85,115,260,70,110,96,862,509,1318,6,1.8);
 gen("sc2",728,1085,95,115,260,85,110,534,862,938,1318,6,1.8);
 gen("sc3",1272,1075,95,115,260,85,110,1069,862,1484,1318,6,1.8);
 gen("sc4",2649,2224,55,68,380,62,92,2494,2082,2808,2387,3.5,1.2);
})();
</script>
</body></html>
